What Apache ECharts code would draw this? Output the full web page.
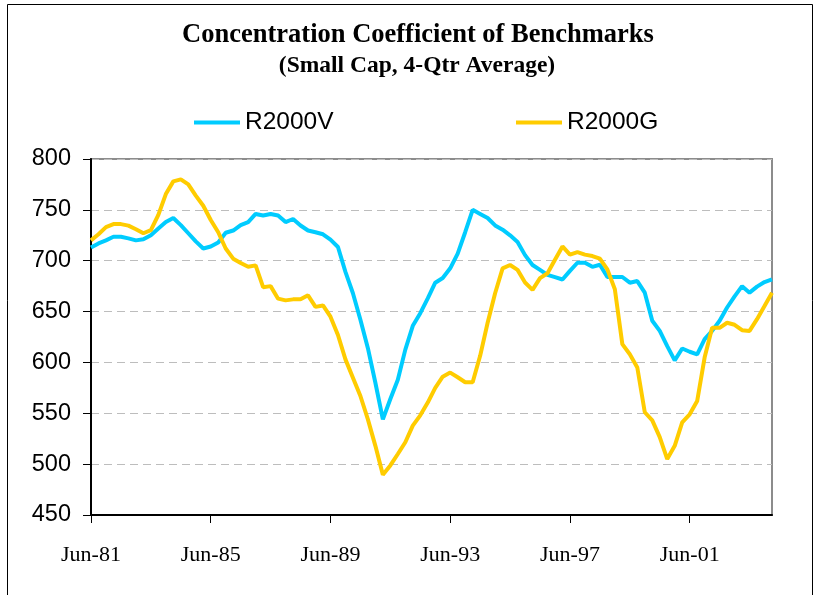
<!DOCTYPE html>
<html>
<head>
<meta charset="utf-8">
<script src="https://cdn.jsdelivr.net/npm/echarts@6/dist/echarts.min.js"></script>
<style>
html,body{margin:0;padding:0;background:#fff;}
#chart{width:813px;height:595px;}
</style>
</head>
<body>
<div id="chart"></div>
<script>
// Quarterly categories starting Jun-81
var months = ['Jan','Feb','Mar','Apr','May','Jun','Jul','Aug','Sep','Oct','Nov','Dec'];
var startYear = 81;
var numQuarters = 92;
var labelEvery = 16;
var categories = [];
for (var i = 0; i < numQuarters; i++) {
  var m = 5 + 3 * i;
  var yr = (startYear + Math.floor(m / 12)) % 100;
  categories.push(months[m % 12] + '-' + (yr < 10 ? '0' + yr : '' + yr));
}

var r2000v = [
  713, 717, 720, 723.5, 723.5, 722, 720, 721, 725, 731.6,
  738, 742, 735, 727, 719, 712, 714, 718, 727.5, 729.7,
  735, 738, 746, 744.4, 746, 744.4, 738, 741, 734.6, 729.7,
  728, 726, 720.7, 713.5, 689, 668, 642, 614, 580, 544,
  564, 583, 612.6, 636, 648.4, 663, 678.4, 683, 692.5, 707,
  728, 750, 746, 742, 734.7, 730.5, 725, 718.5, 705.5, 695.8,
  691, 686, 683.8, 681.5, 690, 698, 698, 694, 696, 684,
  684, 684, 678.4, 680, 668.6, 641, 631, 616, 602, 613.7,
  610.5, 608, 623, 631, 641, 654, 665, 675, 668.6, 674.5,
  679, 681.7
];

var r2000g = [
  720, 726, 733, 736, 736, 734.5, 731, 727, 730, 745,
  765.5, 778, 780, 775, 764, 754, 740, 728, 712, 702,
  697.7, 694, 695.4, 674, 675, 662.7, 661, 662, 662, 666,
  654.6, 656, 645, 627, 603, 585, 567, 544, 518, 489.6,
  498.7, 510, 521.5, 537.8, 548, 560.5, 575, 586, 590, 585.4,
  580.5, 580.5, 606.5, 639, 668, 692.5, 695.8, 691, 678.6, 671.4,
  682.8, 687.7, 701, 714, 706, 708.5, 706, 704.6, 702, 691.5,
  672, 618, 608, 595, 551, 543, 526.5, 505, 518, 541,
  549, 562, 605, 634, 634, 639, 637, 631.7, 631, 642.5,
  655.5, 668.6
];

var seriesNames = ['R2000V', 'R2000G'];
var titleText = 'Concentration Coefficient of Benchmarks';
var subtitleText = '(Small Cap, 4-Qtr Average)';

function everyN(idx) { return idx % labelEvery === 0; }

var chart = echarts.init(document.getElementById('chart'), null, {renderer: 'canvas'});
chart.setOption({
  animation: false,
  backgroundColor: '#ffffff',
  title: [
    {
      text: titleText,
      left: 418, top: 22, textAlign: 'center', padding: 0,
      textStyle: {fontFamily: 'Liberation Serif', fontWeight: 'bold', fontSize: 26.5, color: '#000'}
    },
    {
      text: subtitleText,
      left: 417, top: 54, textAlign: 'center', padding: 0,
      textStyle: {fontFamily: 'Liberation Serif', fontWeight: 'bold', fontSize: 23.5, color: '#000'}
    }
  ],
  legend: [
    {
      data: [seriesNames[0]], left: 194, top: 110, padding: 0,
      icon: 'rect', itemWidth: 46, itemHeight: 4, itemGap: 0,
      textStyle: {fontFamily: 'Liberation Sans', fontSize: 24.5, color: '#000', padding: [0,0,0,0]}
    },
    {
      data: [seriesNames[1]], left: 516, top: 110, padding: 0,
      icon: 'rect', itemWidth: 46, itemHeight: 4, itemGap: 0,
      textStyle: {fontFamily: 'Liberation Sans', fontSize: 24.5, color: '#000', padding: [0,0,0,0]}
    }
  ],
  grid: {
    left: 91, right: 41, top: 159, bottom: 80,
    show: true, borderColor: '#8c8c8c', borderWidth: 2, backgroundColor: 'transparent'
  },
  xAxis: {
    type: 'category',
    data: categories,
    boundaryGap: false,
    axisLine: {lineStyle: {color: '#000', width: 2}},
    axisTick: {show: true, interval: everyN, length: 8, inside: false, lineStyle: {color: '#000', width: 1}},
    axisLabel: {
      interval: everyN, margin: 29,
      fontFamily: 'Liberation Serif', fontSize: 22, color: '#000'
    },
    splitLine: {show: false}
  },
  yAxis: {
    type: 'value',
    min: 450, max: 800, interval: 50,
    axisLine: {show: true, lineStyle: {color: '#000', width: 2}},
    axisTick: {show: true, length: 8, inside: false, lineStyle: {color: '#000', width: 1}},
    axisLabel: {margin: 20, fontFamily: 'Liberation Sans', fontSize: 23.5, color: '#000'},
    splitLine: {show: true, lineStyle: {color: '#bdbdbd', width: 1, type: [8, 5]}}
  },
  series: [
    {
      name: seriesNames[0], type: 'line', data: r2000v,
      showSymbol: false, symbol: 'none',
      lineStyle: {color: '#00ccff', width: 4},
      itemStyle: {color: '#00ccff'}
    },
    {
      name: seriesNames[1], type: 'line', data: r2000g,
      showSymbol: false, symbol: 'none',
      lineStyle: {color: '#ffcc00', width: 4},
      itemStyle: {color: '#ffcc00'}
    }
  ],
  graphic: [
    {
      type: 'rect', silent: true, z: 100,
      shape: {x: 7.5, y: 4.5, width: 805, height: 600},
      style: {fill: 'none', stroke: '#000', lineWidth: 1}
    }
  ]
});
</script>
</body>
</html>
